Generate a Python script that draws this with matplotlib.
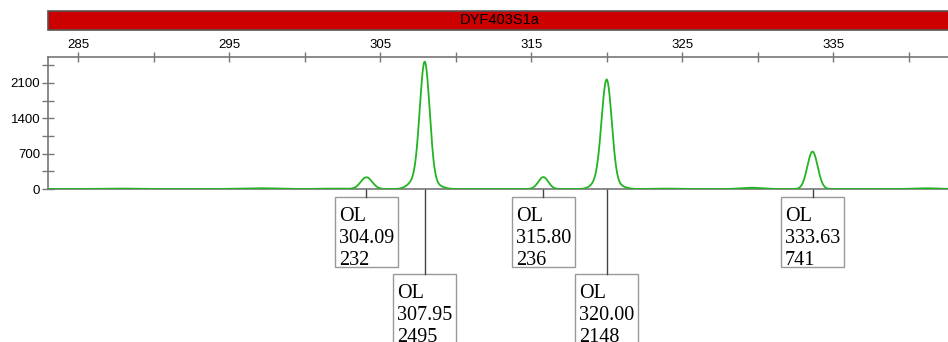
import numpy as np
import matplotlib
matplotlib.use("Agg")
import matplotlib.pyplot as plt
from matplotlib.patches import Rectangle
from matplotlib.transforms import blended_transform_factory
from matplotlib.ticker import MultipleLocator

plt.rcParams["font.family"] = "Liberation Sans"

# called peaks: size (bp), height (RFU), label row (0 upper, 1 lower)
peak_size = [304.09, 307.95, 315.80, 320.00, 333.63]
peak_height = [232, 2495, 236, 2148, 741]
peak_row = [0, 1, 0, 1, 0]
peak_allele = ["OL", "OL", "OL", "OL", "OL"]
peak_width = [0.38, 0.33, 0.33, 0.34, 0.34]

# small uncalled bumps / shoulders in the trace
bump_size = [287.5, 297.0, 301.8, 307.2, 308.8, 319.3, 320.9, 324.0, 329.6, 341.2]
bump_height = [10, 16, 8, 130, 60, 100, 50, 8, 25, 15]
bump_width = [1.0, 1.2, 0.8, 0.4, 0.4, 0.38, 0.4, 0.8, 0.7, 0.8]

marker_name = "DYF403S1a"

x = np.linspace(283, 343, 3000)
y = np.zeros_like(x)
for s, h, w in zip(peak_size + bump_size, peak_height + bump_height,
                   peak_width + bump_width):
    y += h * np.exp(-0.5 * ((x - s) / w) ** 2)

W, H = 948, 342
fig = plt.figure(figsize=(W / 100, H / 100), dpi=100)
x0, x1 = 48, 948
ytop, ybot = 57, 189
ax = fig.add_axes([x0 / W, 1 - ybot / H, (x1 - x0) / W, (ybot - ytop) / H])

ax.plot(x, y, color="#22b422", lw=1.3, zorder=3)
ax.set_xlim(283.0, 283.0 + (x1 - x0) / 15.1)
ax.set_ylim(0, 2615)

for s in ["left", "top", "bottom"]:
    ax.spines[s].set_color("#777777")
    ax.spines[s].set_linewidth(1.2)
ax.spines["right"].set_visible(False)

ax.xaxis.tick_top()
ax.xaxis.set_minor_locator(MultipleLocator(5))
ax.set_xticks([285, 295, 305, 315, 325, 335])
ax.tick_params(axis="x", which="both", direction="inout", length=7, width=1,
               color="#777777", labelsize=9.5, pad=1)
ax.set_yticks([0, 700, 1400, 2100])
ax.yaxis.set_minor_locator(MultipleLocator(350))
ax.tick_params(axis="y", which="both", direction="inout", length=8, width=1,
               color="#777777", labelsize=9.5, pad=1.5)

# marker bar
fig.patches.append(Rectangle((x0 / W, 1 - 30 / H), (x1 - x0 + 5) / W, 19 / H,
                             transform=fig.transFigure, facecolor="#cc0000",
                             edgecolor="#555555", lw=1.2))
fig.text(500 / W, 1 - 20.5 / H, marker_name, ha="center", va="center",
         fontsize=10.5, color="black")

# label boxes
tr = blended_transform_factory(ax.transData, ax.transAxes)
ppx = 15.1
def yf(py):
    return (ybot - py) / (ybot - ytop)

for s, h, row, al in zip(peak_size, peak_height, peak_row, peak_allele):
    top = 197 if row == 0 else 274
    ax.plot([s, s], [yf(ybot), yf(top)], color="#444444", lw=1,
            transform=tr, clip_on=False)
    ax.add_patch(Rectangle((s - 31.5 / ppx, yf(top + 70)), 63 / ppx,
                           70 / (ybot - ytop), transform=tr, clip_on=False,
                           facecolor="white", edgecolor="#999999", lw=1))
    for i, t in enumerate([al, f"{s:.2f}", f"{h}"]):
        ax.text(s - 27.5 / ppx, yf(top + 23.7 + 22 * i), t, transform=tr,
                ha="left", va="baseline", fontsize=14.5,
                family="Liberation Serif", clip_on=False)

fig.savefig("out.png", dpi=100)
